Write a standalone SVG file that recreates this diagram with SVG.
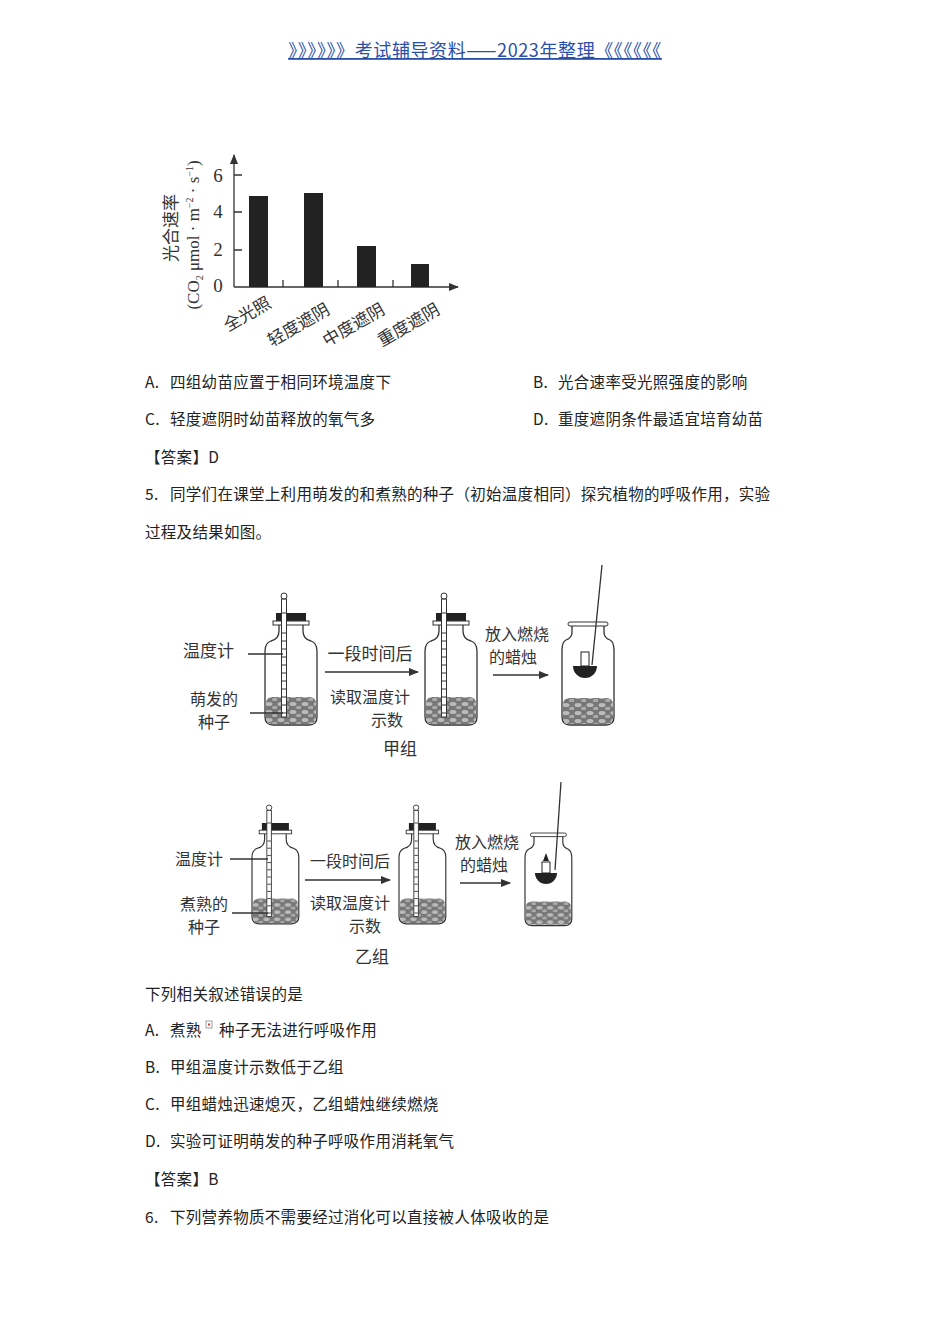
<svg xmlns="http://www.w3.org/2000/svg" width="950" height="1344" viewBox="0 0 950 1344">
<style>
.t{font-family:"Noto Sans CJK SC","Liberation Serif",serif;font-size:15.5px;fill:#222;letter-spacing:0.3px}
.f{font-family:"Noto Sans CJK SC",sans-serif;font-size:17px;fill:#333}
.g{font-family:"Noto Sans CJK SC",sans-serif;font-size:16px;fill:#333}
.n{font-family:"Liberation Serif",serif;font-size:19px;fill:#333}
.ln{stroke:#333;stroke-width:1.3;fill:none}
.bar{fill:#222}
</style>
<defs>
<marker id="ah" markerWidth="10" markerHeight="8" refX="9" refY="4" orient="auto" markerUnits="userSpaceOnUse"><path d="M0,0 L10,4 L0,8 Z" fill="#333"/></marker>
<pattern id="seed" width="12" height="8" patternUnits="userSpaceOnUse"><rect width="12" height="8" fill="#777"/><ellipse cx="4" cy="3" rx="3.5" ry="2" fill="#bbb"/><ellipse cx="10" cy="6.5" rx="3" ry="1.8" fill="#aaa"/></pattern>
<g id="bottle">
<rect x="1" y="84" width="50" height="27" rx="6" fill="url(#seed)"/>
<path class="ln" d="M14,12 V18 Q14,26 6,28 Q0,30 0,38 V104 Q0,112 8,112 H44 Q52,112 52,104 V38 Q52,30 46,28 Q38,26 38,18 V12"/>
<rect x="11" y="0" width="30" height="9" fill="#222"/>
<rect x="8" y="8" width="36" height="4" fill="#fff" stroke="#333"/>
<rect x="16.5" y="-14" width="5" height="118" fill="#fff" stroke="#333" stroke-width="1"/>
<path d="M17,0 H21 M17,20 H21 M17,28 H21 M17,36 H21 M17,44 H21 M17,52 H21 M17,60 H21 M17,68 H21 M17,76 H21 M17,84 H21 M17,92 H21 M17,100 H21" stroke="#333" stroke-width="1"/>
<circle cx="19" cy="-17" r="3" fill="#fff" stroke="#333"/>
</g>
<g id="open">
<rect x="1" y="76" width="50" height="26" rx="6" fill="url(#seed)"/>
<path class="ln" d="M10,3 V10 Q10,16 4,18 Q0,20 0,28 V95 Q0,103 8,103 H44 Q52,103 52,95 V28 Q52,20 48,18 Q42,16 42,10 V3"/>
<rect x="6" y="0" width="40" height="4" rx="2" fill="#fff" stroke="#333"/>
</g>
</defs>

<text x="475" y="57" text-anchor="middle" font-family="Noto Sans CJK SC,sans-serif" font-size="18" letter-spacing="0.6" fill="#2a4fa8" text-decoration="underline">》》》》》》考试辅导资料——2023年整理《《《《《《</text>

<g id="chart">
<path class="ln" d="M234,287 H458" marker-end="url(#ah)"/>
<path class="ln" d="M234,287 V155" marker-end="url(#ah)"/>
<path class="ln" d="M234,175 H242 M234,212 H242 M234,250 H242 M283,287 V280 M338,287 V280 M393,287 V280"/>
<text class="n" x="218" y="182" text-anchor="middle">6</text>
<text class="n" x="218" y="218" text-anchor="middle">4</text>
<text class="n" x="218" y="256" text-anchor="middle">2</text>
<text class="n" x="218" y="292" text-anchor="middle">0</text>
<rect class="bar" x="249" y="196" width="19" height="91"/>
<rect class="bar" x="304" y="193" width="19" height="94"/>
<rect class="bar" x="357" y="246" width="19" height="41"/>
<rect class="bar" x="411" y="264" width="18" height="23"/>
<text class="f" transform="translate(177,228) rotate(-90)" text-anchor="middle" font-size="18">光合速率</text>
<text transform="translate(199,235) rotate(-90)" text-anchor="middle" font-family="Liberation Serif,serif" font-size="17" fill="#333">(CO<tspan font-size="10" dy="4">2</tspan><tspan dy="-4"> μmol · m</tspan><tspan font-size="10" dy="-6">−2</tspan><tspan dy="6"> · s</tspan><tspan font-size="10" dy="-6">−1</tspan><tspan dy="6">)</tspan></text>
<text class="f" transform="translate(228,332) rotate(-30)" font-size="18">全光照</text>
<text class="f" transform="translate(272,347) rotate(-30)" font-size="18">轻度遮阴</text>
<text class="f" transform="translate(327,347) rotate(-30)" font-size="18">中度遮阴</text>
<text class="f" transform="translate(382,347) rotate(-30)" font-size="18">重度遮阴</text>
</g>

<g id="q4">
<text class="t" x="145" y="388">A.</text><text class="t" x="170" y="388">四组幼苗应置于相同环境温度下</text>
<text class="t" x="533" y="388">B.</text><text class="t" x="558" y="388">光合速率受光照强度的影响</text>
<text class="t" x="145" y="425">C.</text><text class="t" x="170" y="425">轻度遮阴时幼苗释放的氧气多</text>
<text class="t" x="533" y="425">D.</text><text class="t" x="558" y="425">重度遮阴条件最适宜培育幼苗</text>
<text class="t" x="145" y="463">【答案】D</text>
<text class="t" x="145" y="500">5.</text><text class="t" x="170" y="500">同学们在课堂上利用萌发的和煮熟的种子（初始温度相同）探究植物的呼吸作用，实验</text>
<text class="t" x="145" y="538">过程及结果如图。</text>
</g>

<g id="jia">
<use href="#bottle" x="265" y="613"/>
<use href="#bottle" x="425" y="613"/>
<use href="#open" x="562" y="622"/>
<path class="ln" d="M602,565 L592,665"/>
<path d="M573,666 A12,12 0 0 0 597,666 Z" fill="#222"/>
<rect x="581" y="652" width="8" height="14" fill="#fff" stroke="#222"/>
<path class="ln" d="M248,654 H283 M250,713 H283"/>
<text class="f" x="183" y="657">温度计</text>
<text class="g" x="190" y="705">萌发的</text>
<text class="g" x="198" y="728">种子</text>
<path class="ln" d="M325,672 H418" marker-end="url(#ah)"/>
<text class="f" x="370" y="660" text-anchor="middle">一段时间后</text>
<text class="g" x="370" y="703" text-anchor="middle">读取温度计</text>
<text class="g" x="387" y="726" text-anchor="middle">示数</text>
<path class="ln" d="M493,675 H548" marker-end="url(#ah)"/>
<text class="g" x="517" y="640" text-anchor="middle">放入燃烧</text>
<text class="g" x="513" y="663" text-anchor="middle">的蜡烛</text>
<text class="f" x="400" y="755" text-anchor="middle">甲组</text>
</g>

<g id="yi">
<use href="#bottle" transform="translate(252,823) scale(0.9)"/>
<use href="#bottle" transform="translate(399,823) scale(0.9)"/>
<use href="#open" transform="translate(525,833) scale(0.9)"/>
<path class="ln" d="M561,782 L555,870"/>
<path d="M535,873 A11,11 0 0 0 557,873 Z" fill="#222"/>
<rect x="542" y="862" width="8" height="11" fill="#fff" stroke="#222"/>
<path d="M546,853 L549,861 L543,861 Z" fill="#222"/>
<path class="ln" d="M230,859 H268 M232,913 H268"/>
<text class="g" x="175" y="865">温度计</text>
<text class="g" x="180" y="910">煮熟的</text>
<text class="g" x="188" y="933">种子</text>
<path class="ln" d="M305,880 H390" marker-end="url(#ah)"/>
<text class="g" x="350" y="867" text-anchor="middle">一段时间后</text>
<text class="g" x="350" y="909" text-anchor="middle">读取温度计</text>
<text class="g" x="365" y="932" text-anchor="middle">示数</text>
<path class="ln" d="M460,883 H510" marker-end="url(#ah)"/>
<text class="g" x="487" y="848" text-anchor="middle">放入燃烧</text>
<text class="g" x="484" y="871" text-anchor="middle">的蜡烛</text>
<text class="f" x="372" y="963" text-anchor="middle">乙组</text>
</g>

<g id="q5">
<text class="t" x="145" y="1000">下列相关叙述错误的是</text>
<text class="t" x="145" y="1036">A.</text><text class="t" x="170" y="1036">煮熟</text>
<rect x="206" y="1021" width="6" height="7" fill="#fff" stroke="#888" stroke-width="0.8"/>
<rect x="208" y="1023.5" width="2" height="2" fill="#d33"/>
<text class="t" x="219" y="1036">种子无法进行呼吸作用</text>
<text class="t" x="145" y="1073">B.</text><text class="t" x="170" y="1073">甲组温度计示数低于乙组</text>
<text class="t" x="145" y="1110">C.</text><text class="t" x="170" y="1110">甲组蜡烛迅速熄灭，乙组蜡烛继续燃烧</text>
<text class="t" x="145" y="1147">D.</text><text class="t" x="170" y="1147">实验可证明萌发的种子呼吸作用消耗氧气</text>
<text class="t" x="145" y="1185">【答案】B</text>
<text class="t" x="145" y="1223">6.</text><text class="t" x="170" y="1223">下列营养物质不需要经过消化可以直接被人体吸收的是</text>
</g>
</svg>
